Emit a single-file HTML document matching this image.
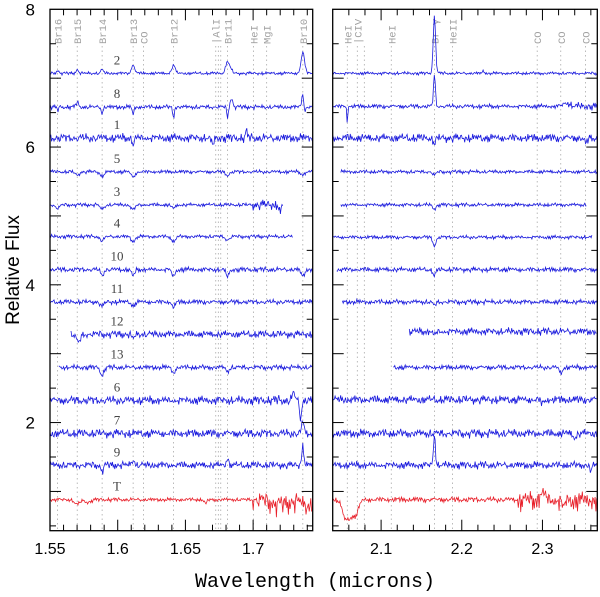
<!DOCTYPE html>
<html><head><meta charset="utf-8"><style>
html,body{margin:0;padding:0;background:#fff;}
svg{display:block;}
</style></head><body>
<svg id="chart" width="600" height="597" viewBox="0 0 600 597" xmlns="http://www.w3.org/2000/svg"></svg>
<script>
// ---------- data ----------
const yTicksMajor = [2, 4, 6, 8];
const leftXTickLabels = [1.55, 1.6, 1.65, 1.7];
const rightXTickLabels = [2.1, 2.2, 2.3];
const leftLineNames = ["Br16","Br15","Br14","Br13","CO","Br12","AlI","","","Br11","HeI","MgI","Br10"];
const leftLineWaves = [1.5556,1.5701,1.5885,1.6114,1.6190,1.6412,1.6724,1.6743,1.6761,1.6811,1.7002,1.7100,1.7367];
const rightLineNames = ["HeI","CIV","","HeI","Br γ","HeII","CO","CO","CO"];
const rightLineWaves = [2.0581,2.0705,2.0792,2.1126,2.1661,2.1885,2.2935,2.3227,2.3535];
const traceNames = ["2","8","1","5","3","4","10","11","12","13","6","7","9","T"];
const traceBaseLeft  = [7.07,6.58,6.13,5.64,5.16,4.70,4.22,3.75,3.28,2.80,2.32,1.84,1.38,0.88];
const traceBaseRight = [7.07,6.59,6.13,5.64,5.16,4.69,4.22,3.75,3.32,2.80,2.33,1.84,1.38,0.88];
const traceNoise     = [0.025,0.035,0.07,0.03,0.03,0.03,0.04,0.04,0.06,0.04,0.07,0.07,0.06,0.03];
const traceStartLeft = [1.55,1.55,1.55,1.55,1.55,1.55,1.55,1.55,1.5655,1.5565,1.55,1.55,1.55,1.55];
const traceEndLeft   = [1.744,1.744,1.744,1.744,1.7225,1.7295,1.744,1.744,1.744,1.744,1.744,1.744,1.744,1.744];
const traceStartRight= [2.040,2.040,2.040,2.050,2.050,2.040,2.045,2.052,2.135,2.115,2.040,2.040,2.040,2.040];
const traceEndRight  = [2.368,2.368,2.368,2.368,2.355,2.362,2.368,2.368,2.368,2.368,2.368,2.368,2.368,2.368];
// features per trace: [wavelength, amplitude, width]
const traceFeatures = [
 [[1.5556,0.04,0.001],[1.5701,0.05,0.001],[1.5885,0.05,0.001],[1.6114,0.12,0.0012],[1.6412,0.12,0.0012],[1.6811,0.18,0.0013],[1.6840,0.05,0.0008],[1.7367,0.30,0.0013],[2.1661,0.82,0.0015],[2.2270,0.04,0.001]],
 [[1.5556,-0.05,0.0006],[1.5701,0.06,0.001],[1.5885,-0.1,0.0006],[1.6114,-0.12,0.0006],[1.6412,-0.15,0.0006],[1.6811,-0.15,0.0006],[1.6840,0.12,0.001],[1.7367,0.2,0.0008],[1.7380,-0.1,0.0006],[2.0581,-0.28,0.0005],[2.1661,0.45,0.0012],[2.3300,0.05,0.004]],
 [[1.6114,-0.12,0.0006],[1.6700,-0.1,0.001],[1.6950,0.1,0.0006],[2.1661,-0.07,0.002],[2.3535,-0.08,0.002]],
 [[1.5701,-0.05,0.0015],[1.5885,-0.06,0.0015],[1.6114,-0.07,0.0015],[1.6811,-0.05,0.0015],[1.7367,-0.04,0.0015],[2.1661,-0.05,0.002]],
 [[1.5556,-0.05,0.0015],[1.5885,-0.06,0.0015],[1.6114,-0.07,0.0015],[1.6412,-0.05,0.0015],[1.7200,-0.12,0.0008],[2.1661,-0.06,0.002]],
 [[1.5885,-0.06,0.0015],[1.6114,-0.07,0.0015],[1.6412,-0.07,0.0015],[1.6811,-0.05,0.0015],[2.1661,-0.12,0.002]],
 [[1.5885,-0.08,0.0012],[1.6114,-0.09,0.0012],[1.6412,-0.1,0.0012],[1.6811,-0.1,0.0012],[1.7367,-0.1,0.0012],[2.1661,-0.08,0.002]],
 [[1.5885,-0.07,0.0012],[1.6114,-0.06,0.0012],[1.6412,-0.07,0.0012],[2.1661,-0.05,0.002]],
 [[1.5710,-0.12,0.0015],[1.6114,-0.06,0.0012],[2.1661,-0.05,0.002]],
 [[1.5885,-0.12,0.0012],[1.6412,-0.08,0.0012],[1.6811,-0.06,0.0012],[2.3227,-0.08,0.002]],
 [[1.7300,0.1,0.001],[1.7350,-0.25,0.0008],[2.3000,-0.06,0.002]],
 [[1.7367,0.18,0.0008],[2.3400,-0.06,0.002]],
 [[1.5885,-0.08,0.001],[1.6114,0.08,0.001],[1.6811,0.12,0.0007],[1.7367,0.28,0.0008],[2.1661,0.45,0.0012],[2.3600,-0.12,0.001]],
 [[1.5701,-0.07,0.002],[1.5780,-0.04,0.002],[1.6650,-0.06,0.001],[1.7200,-0.06,0.006],[1.7400,-0.08,0.004],[2.0560,-0.28,0.004],[2.0680,-0.22,0.004],[2.0620,-0.1,0.003],[2.3000,0.1,0.003],[2.3260,-0.12,0.002]]
];
// extra noise regions per trace: [w0, w1, amp]
const traceNoiseRegions = [
 [], [[2.33,2.368,0.06]], [[2.30,2.368,0.06]], [], [[1.700,1.7225,0.08]], [], [], [], [], [], [[1.715,1.744,0.08]], [], [[2.33,2.368,0.06]],
 [[1.700,1.744,0.12],[2.270,2.368,0.12],[2.040,2.270,0.045]]
];
const noiseA = [0.3,-0.8,0.5,0.9,-0.2,-0.6,0.7,-0.9,0.1,0.4,-0.4,0.8,-0.7,0.2,0.6,-1.0,0.3,-0.1,0.9,-0.5,0.0,0.7,-0.3,-0.8,0.5,0.2,-0.6,1.0,-0.2,0.4,-0.9,0.6,-0.4,0.1,0.8,-0.7,0.3];
const noiseB = [-0.4,0.6,0.1,-0.7,0.9,-0.2,0.3,-0.9,0.5,0.0,-0.5,0.8,-0.3,0.4,-0.8,0.7,-0.1,0.2,-0.6,0.9,-0.4,0.5,-0.2];

// ---------- layout ----------
const svg = document.getElementById('chart');
const NS = 'http://www.w3.org/2000/svg';
const plotTop = 9.3, plotBot = 530.7;
const yMin = 0.43, yMax = 8;
const yScale = v => plotBot - (v - yMin) / (yMax - yMin) * (plotBot - plotTop);
const panels = [
 {name:'left', x0:50, x1:312.7, w0:1.55, w1:1.744, minor:0.01, major:0.05, labels:leftXTickLabels, lw:leftLineWaves, ln:leftLineNames},
 {name:'right', x0:332.7, x1:597.3, w0:2.040, w1:2.368, minor:0.02, major:0.1, labels:rightXTickLabels, lw:rightLineWaves, ln:rightLineNames}
];
function el(tag, attrs, parent){const e=document.createElementNS(NS,tag);for(const k in attrs)e.setAttribute(k,attrs[k]);(parent||svg).appendChild(e);return e;}

panels.forEach((p, pi) => {
  const xs = w => p.x0 + (w - p.w0) / (p.w1 - p.w0) * (p.x1 - p.x0);
  const g = el('g', {});
  
  
  p.lw.forEach((w, i) => {
    const ln = el('line', {x1:xs(w), x2:xs(w), y1:46, y2:plotBot, stroke:'#aaa', 'stroke-width':0.8, 'stroke-dasharray':'1.5,3'}, g);
    
    
    if (p.ln[i]) {
      const t = el('text', {x:0, y:0, transform:`translate(${xs(w)+4},44) rotate(-90)`, 'font-family':'"Liberation Mono", monospace', 'font-size':'10.5', fill:'#a0a0a0'}, g);
      t.textContent = (p.ln[i]==='AlI'||p.ln[i]==='CIV' ? '|' : '') + p.ln[i];
      
      
    }
  });
  traceNames.forEach((nm, k) => {
    const base = pi===0 ? traceBaseLeft[k] : traceBaseRight[k];
    const ws = pi===0 ? traceStartLeft[k] : traceStartRight[k];
    const we = pi===0 ? traceEndLeft[k] : traceEndRight[k];
    const feats = traceFeatures[k].filter(f => f[0] >= p.w0 - 0.01 && f[0] <= p.w1 + 0.01);
    let d = '';
    const step = (p.w1 - p.w0) / (p.x1 - p.x0) * 0.8;
    let i = 0;
    for (let w = ws; w <= we; w += step, i++) {
      let amp = traceNoise[k];
      let bias = 0;
      traceNoiseRegions[k].forEach(r => { if (w >= r[0] && w <= r[1]) { amp = Math.max(amp, r[2]); } });
      let n = noiseA[(i + k*5 + pi*11) % noiseA.length] + noiseB[(i*2 + k*3) % noiseB.length];
      if (nm === 'T' && amp > 0.1 && n < 0) n *= 1.6;
      let v = base + amp * 0.55 * n;
      feats.forEach(f => { v += f[1] * Math.exp(-0.5 * Math.pow((w - f[0]) / f[2], 2)); });
      d += (d ? 'L' : 'M') + xs(w).toFixed(1) + ',' + yScale(v).toFixed(1);
    }
    const path = el('path', {d, fill:'none', stroke: nm==='T' ? '#e8202a' : '#1a1add', 'stroke-width':0.8}, g);
    
    
    if (pi === 0) {
      const t = el('text', {x:117, y:yScale(base) - 9, 'text-anchor':'middle', 'font-family':'"Liberation Serif", serif', 'font-size':'13', fill:'#444'}, g);
      t.textContent = nm;
      
      
    }
  });
  const fr = el('rect', {x:p.x0, y:plotTop, width:p.x1-p.x0, height:plotBot-plotTop, fill:'none', stroke:'#000', 'stroke-width':1.3}, g);
  
  
  const firstMinor = Math.ceil(p.w0 / p.minor - 1e-6);
  for (let j = firstMinor; j * p.minor <= p.w1 + 1e-9; j++) {
    const w = j * p.minor;
    const isMajor = Math.abs(w / p.major - Math.round(w / p.major)) < 1e-6;
    const len = isMajor ? 11 : 6;
    const xx = xs(w);
    if (xx < p.x0 + 0.5 || xx > p.x1 - 0.5) continue;
    el('line', {x1:xx, x2:xx, y1:plotBot, y2:plotBot-len, stroke:'#000', 'stroke-width':1}, g);
    el('line', {x1:xx, x2:xx, y1:plotTop, y2:plotTop+len, stroke:'#000', 'stroke-width':1}, g);
  }
  p.labels.forEach(v => {
    const t = el('text', {x:xs(v), y:554, 'text-anchor':'middle', 'font-family':'"Liberation Sans", sans-serif', 'font-size':'16', fill:'#000'}, g);
    t.textContent = String(v);
    
    
  });
  for (let v = 0.5; v <= 8; v += 0.5) {
    const yy = yScale(v);
    if (yy < plotTop + 0.5 || yy > plotBot) continue;
    const len = Number.isInteger(v) ? 11 : 6;
    el('line', {x1:p.x0, x2:p.x0+len, y1:yy, y2:yy, stroke:'#000', 'stroke-width':1}, g);
    el('line', {x1:p.x1, x2:p.x1-len, y1:yy, y2:yy, stroke:'#000', 'stroke-width':1}, g);
  }
});
yTicksMajor.forEach(v => {
  const t = el('text', {x:35, y:yScale(v)+6, 'text-anchor':'end', 'font-family':'"Liberation Sans", sans-serif', 'font-size':'17', fill:'#000'});
  t.textContent = String(v);
  
  
});
const yt = el('text', {x:0, y:0, transform:'translate(19,270) rotate(-90)', 'text-anchor':'middle', 'font-family':'"Liberation Sans", sans-serif', 'font-size':'19', fill:'#000'});
yt.textContent = 'Relative Flux';


const xt = el('text', {x:315, y:587, 'text-anchor':'middle', 'font-family':'"Liberation Mono", monospace', 'font-size':'20', fill:'#000'});
xt.textContent = 'Wavelength (microns)';


</script>
</body></html>
